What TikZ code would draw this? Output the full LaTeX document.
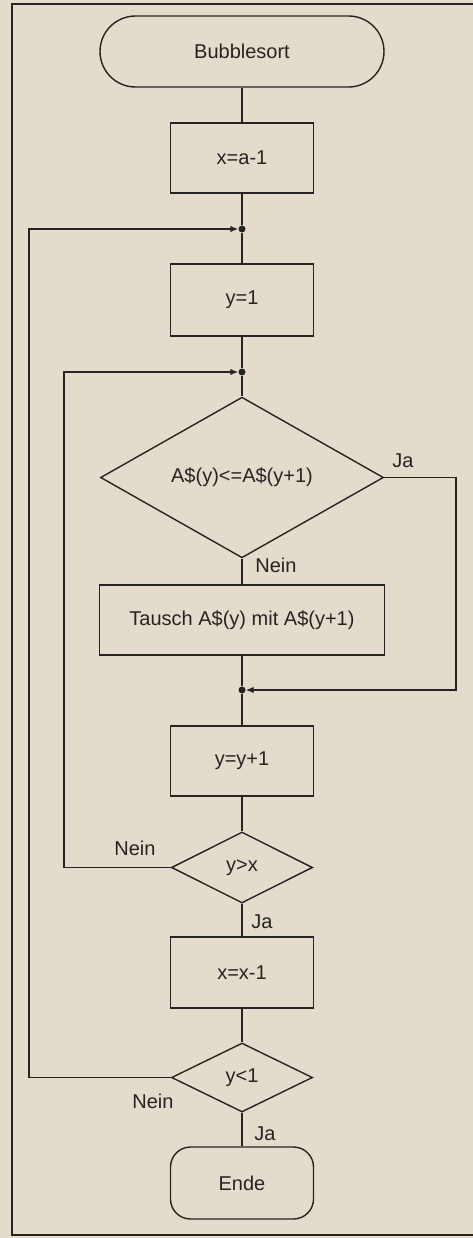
\documentclass[tikz,border=0pt]{standalone}
\usepackage{fontspec}
\setmainfont{Liberation Sans}
\usetikzlibrary{arrows.meta,shapes.geometric}
\definecolor{paper}{HTML}{E3DCCD}
\definecolor{ink}{HTML}{262422}

\tikzset{
  flow/.style={draw=ink, line width=1.4pt},
  terminal/.style={flow, rectangle, inner sep=0pt, minimum width=#1},
  process/.style={flow, rectangle, inner sep=0pt, minimum width=#1, minimum height=70pt},
  decision/.style={flow, diamond, inner sep=0pt},
  junction/.style={circle, fill=ink, inner sep=0pt, minimum size=7pt},
  lbl/.style={text=ink, inner sep=0pt},
  loop/.style={flow, -{Latex[length=8pt,width=6.5pt]}},
}

\begin{document}
\begin{tikzpicture}[x=1pt, y=-1pt, font=\fontsize{20}{23}\selectfont, text=ink]
  % paper and frame
  \fill[paper] (0,0) rectangle (473,1238);
  \useasboundingbox (0,0) rectangle (473,1238);
  \draw[draw=ink, line width=1.1pt] (473,4) -- (12,4) -- (12,1235) -- (473,1235);

  % main column
  \node[terminal=284pt, minimum height=71pt, rounded corners=35.5pt] (start) at (242,51.5) {Bubblesort};
  \node[process=143pt] (xa) at (242,158) {x=a-1};
  \node[junction] (j1) at (242,229) {};
  \node[process=143pt, minimum height=72pt] (yone) at (242,300) {y=1};
  \node[junction] (j2) at (242,372) {};
  \node[decision, minimum width=283pt, minimum height=141pt] (cmp) at (242,477.5) {A\$(y)<=A\$(y+1)};
  \node[process=285pt] (swap) at (242,620) {Tausch A\$(y) mit A\$(y+1)};
  \node[junction] (j3) at (242,690) {};
  \node[process=143pt] (inc) at (242,761) {y=y+1};
  \node[decision, minimum width=141pt, minimum height=71pt] (gtx) at (242,867.5) {y>x};
  \node[process=143pt, minimum height=71pt] (dec) at (242,972.5) {x=x-1};
  \node[decision, minimum width=141pt, minimum height=69pt] (ltone) at (242,1077.5) {y<1};
  \node[terminal=143pt, minimum height=72pt, rounded corners=20pt] (ende) at (242,1183) {Ende};

  % return lanes
  \coordinate (outer) at (29,0);
  \coordinate (inner) at (64,0);
  \coordinate (bypass) at (456,0);

  % straight flow
  \draw[flow] (start) -- (xa);
  \draw[flow] (xa) -- (j1) -- (yone);
  \draw[flow] (yone) -- (j2) -- (cmp);
  \draw[flow] (cmp) -- (swap);
  \draw[flow] (swap) -- (j3) -- (inc);
  \draw[flow] (inc) -- (gtx);
  \draw[flow] (gtx) -- (dec);
  \draw[flow] (dec) -- (ltone);
  \draw[flow] (ltone) -- (ende);

  % branches
  \draw[loop] (cmp.east) -| (bypass |- j3) -- (j3);
  \draw[loop] (gtx.west) -| (inner |- j2) -- (j2);
  \draw[loop] (ltone.west) -| (outer |- j1) -- (j1);

  % branch labels
  \node[lbl] (jaA) at (403,461) {Ja};
  \node[lbl] (neinA) at (276,565) {Nein};
  \node[lbl] (neinB) at (135,848) {Nein};
  \node[lbl] (jaB) at (262,922) {Ja};
  \node[lbl] (neinC) at (153,1101) {Nein};
  \node[lbl] (jaC) at (265,1134) {Ja};
\end{tikzpicture}
\end{document}
